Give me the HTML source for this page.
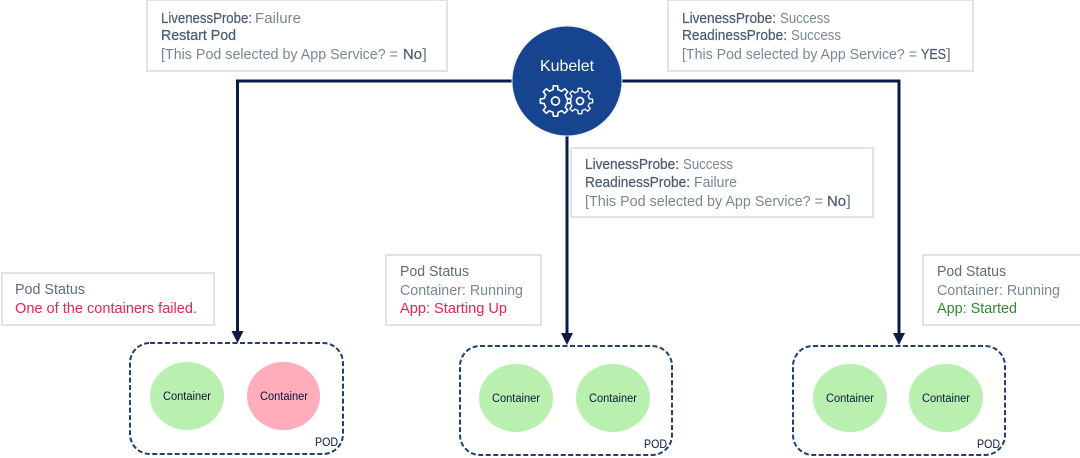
<!DOCTYPE html>
<html>
<head>
<meta charset="utf-8">
<style>
html,body{margin:0;padding:0;background:#fff}
svg{display:block}
text{font-family:"Liberation Sans",sans-serif;font-size:15px;fill:#7b8794}
.b{fill:#4e5d6e;stroke:#4e5d6e;stroke-width:.25}
.box{fill:#fff;stroke:#dfe3e8;stroke-width:2}
.c{font-size:11.500px;fill:#0a1a3c;text-anchor:middle}
.pod{fill:none;stroke:#1f3f75;stroke-width:2;stroke-dasharray:5 2.500}
.ln{fill:none;stroke:#0a1c46;stroke-width:3}
.ar{fill:#0a1c46}
.g{fill:#b9f0b0}
.p{fill:#ffacbb}
.s{fill:none;stroke:#fff;stroke-width:1.700;stroke-linejoin:round}
</style>
</head>
<body>
<svg width="1080" height="458" viewBox="0 0 1080 458" xmlns="http://www.w3.org/2000/svg">
<defs>
<path id="t" d="M-4.6-11.1L-2.7-11.7L-2.2-15.8L2.2-15.8L2.7-11.7L4.6-11.1"/>
<g id="gear">
<use href="#t"/><use href="#t" transform="rotate(45)"/><use href="#t" transform="rotate(90)"/><use href="#t" transform="rotate(135)"/>
<use href="#t" transform="rotate(180)"/><use href="#t" transform="rotate(225)"/><use href="#t" transform="rotate(270)"/><use href="#t" transform="rotate(315)"/>
</g>
</defs>

<!-- connectors -->
<path class="ln" d="M520 81H237.500V333"/>
<path class="ln" d="M615 81H899V335"/>
<path class="ln" d="M567 130V335"/>
<path class="ar" d="M231.500 331H243.500L237.500 343Z"/>
<path class="ar" d="M561 333H573L567 345Z"/>
<path class="ar" d="M893 333H905L899 345Z"/>

<!-- probe boxes -->
<rect class="box" x="147" y="0" width="300" height="71"/>
<text x="161" y="23" class="b" textLength="91" lengthAdjust="spacingAndGlyphs">LivenessProbe:</text>
<text x="255" y="23" textLength="46" lengthAdjust="spacingAndGlyphs">Failure</text>
<text x="161" y="40" class="b" textLength="75" lengthAdjust="spacingAndGlyphs">Restart Pod</text>
<text x="161" y="59" textLength="237" lengthAdjust="spacingAndGlyphs">[This Pod selected by App Service? =</text>
<text x="403" y="59" class="b" textLength="19" lengthAdjust="spacingAndGlyphs">No</text>
<text x="422" y="59" textLength="5" lengthAdjust="spacingAndGlyphs">]</text>

<rect class="box" x="668" y="0" width="305" height="71"/>
<text x="682" y="23" class="b" textLength="94" lengthAdjust="spacingAndGlyphs">LivenessProbe:</text>
<text x="780" y="23" textLength="50" lengthAdjust="spacingAndGlyphs">Success</text>
<text x="682" y="40" class="b" textLength="105" lengthAdjust="spacingAndGlyphs">ReadinessProbe:</text>
<text x="791" y="40" textLength="50" lengthAdjust="spacingAndGlyphs">Success</text>
<text x="682" y="59" textLength="235" lengthAdjust="spacingAndGlyphs">[This Pod selected by App Service? =</text>
<text x="921" y="59" class="b" textLength="25" lengthAdjust="spacingAndGlyphs">YES</text>
<text x="946" y="59" textLength="5" lengthAdjust="spacingAndGlyphs">]</text>

<rect class="box" x="571" y="148" width="302" height="69"/>
<text x="585" y="169" class="b" textLength="94" lengthAdjust="spacingAndGlyphs">LivenessProbe:</text>
<text x="683" y="169" textLength="50" lengthAdjust="spacingAndGlyphs">Success</text>
<text x="585" y="187" class="b" textLength="105" lengthAdjust="spacingAndGlyphs">ReadinessProbe:</text>
<text x="694" y="187" textLength="43" lengthAdjust="spacingAndGlyphs">Failure</text>
<text x="585" y="206" textLength="238" lengthAdjust="spacingAndGlyphs">[This Pod selected by App Service? =</text>
<text x="827" y="206" class="b" textLength="19" lengthAdjust="spacingAndGlyphs">No</text>
<text x="846" y="206" textLength="5" lengthAdjust="spacingAndGlyphs">]</text>

<!-- kubelet -->
<circle cx="567" cy="81" r="55" fill="#16448e" stroke="#e8edf4" stroke-width="1"/>
<text x="567" y="71" text-anchor="middle" style="fill:#fff;font-size:16px" textLength="54" lengthAdjust="spacingAndGlyphs">Kubelet</text>
<use href="#gear" class="s" transform="translate(555.500 101) scale(.96)"/>
<circle class="s" cx="555.500" cy="101" r="4"/>
<use href="#gear" class="s" transform="translate(580 101) scale(.8)"/>
<circle class="s" cx="580" cy="101" r="3.500"/>

<!-- status boxes -->
<rect class="box" x="2" y="273" width="212" height="52"/>
<text x="15" y="294" textLength="70" lengthAdjust="spacingAndGlyphs" style="fill:#5e6c7c">Pod Status</text>
<text x="15" y="313" textLength="182" lengthAdjust="spacingAndGlyphs" style="fill:#e8254f">One of the containers failed.</text>

<rect class="box" x="386" y="255" width="155" height="70"/>
<text x="400" y="276" textLength="69" lengthAdjust="spacingAndGlyphs" style="fill:#5e6c7c">Pod Status</text>
<text x="400" y="295" textLength="123" lengthAdjust="spacingAndGlyphs">Container: Running</text>
<text x="400" y="313" textLength="107" lengthAdjust="spacingAndGlyphs" style="fill:#e8254f">App: Starting Up</text>

<rect class="box" x="923" y="255" width="158" height="70"/>
<text x="937" y="276" textLength="69" lengthAdjust="spacingAndGlyphs" style="fill:#5e6c7c">Pod Status</text>
<text x="937" y="295" textLength="123" lengthAdjust="spacingAndGlyphs">Container: Running</text>
<text x="937" y="313" textLength="80" lengthAdjust="spacingAndGlyphs" style="fill:#2e8b2e">App: Started</text>

<!-- pods -->
<rect class="pod" x="130" y="343" width="213" height="111" rx="20"/>
<ellipse class="g" cx="187" cy="396" rx="37" ry="34"/>
<ellipse class="p" cx="283.500" cy="396" rx="36.500" ry="34"/>
<text class="c" x="187" y="400" textLength="48" lengthAdjust="spacingAndGlyphs">Container</text>
<text class="c" x="284" y="400" textLength="48" lengthAdjust="spacingAndGlyphs">Container</text>
<text x="315" y="446" textLength="23" lengthAdjust="spacingAndGlyphs" style="font-size:11.500px;fill:#0a1a3c">POD</text>

<rect class="pod" x="460" y="346" width="212" height="109" rx="20"/>
<ellipse class="g" cx="516" cy="398" rx="37" ry="34"/>
<ellipse class="g" cx="613" cy="398" rx="37" ry="34"/>
<text class="c" x="516" y="402" textLength="48" lengthAdjust="spacingAndGlyphs">Container</text>
<text class="c" x="613" y="402" textLength="48" lengthAdjust="spacingAndGlyphs">Container</text>
<text x="644" y="448" textLength="23" lengthAdjust="spacingAndGlyphs" style="font-size:11.500px;fill:#0a1a3c">POD</text>

<rect class="pod" x="793" y="346" width="212" height="109" rx="20"/>
<ellipse class="g" cx="850" cy="398" rx="37" ry="34"/>
<ellipse class="g" cx="946" cy="398" rx="37" ry="34"/>
<text class="c" x="850" y="402" textLength="48" lengthAdjust="spacingAndGlyphs">Container</text>
<text class="c" x="946" y="402" textLength="48" lengthAdjust="spacingAndGlyphs">Container</text>
<text x="977" y="448" textLength="23" lengthAdjust="spacingAndGlyphs" style="font-size:11.500px;fill:#0a1a3c">POD</text>
</svg>
</body>
</html>
